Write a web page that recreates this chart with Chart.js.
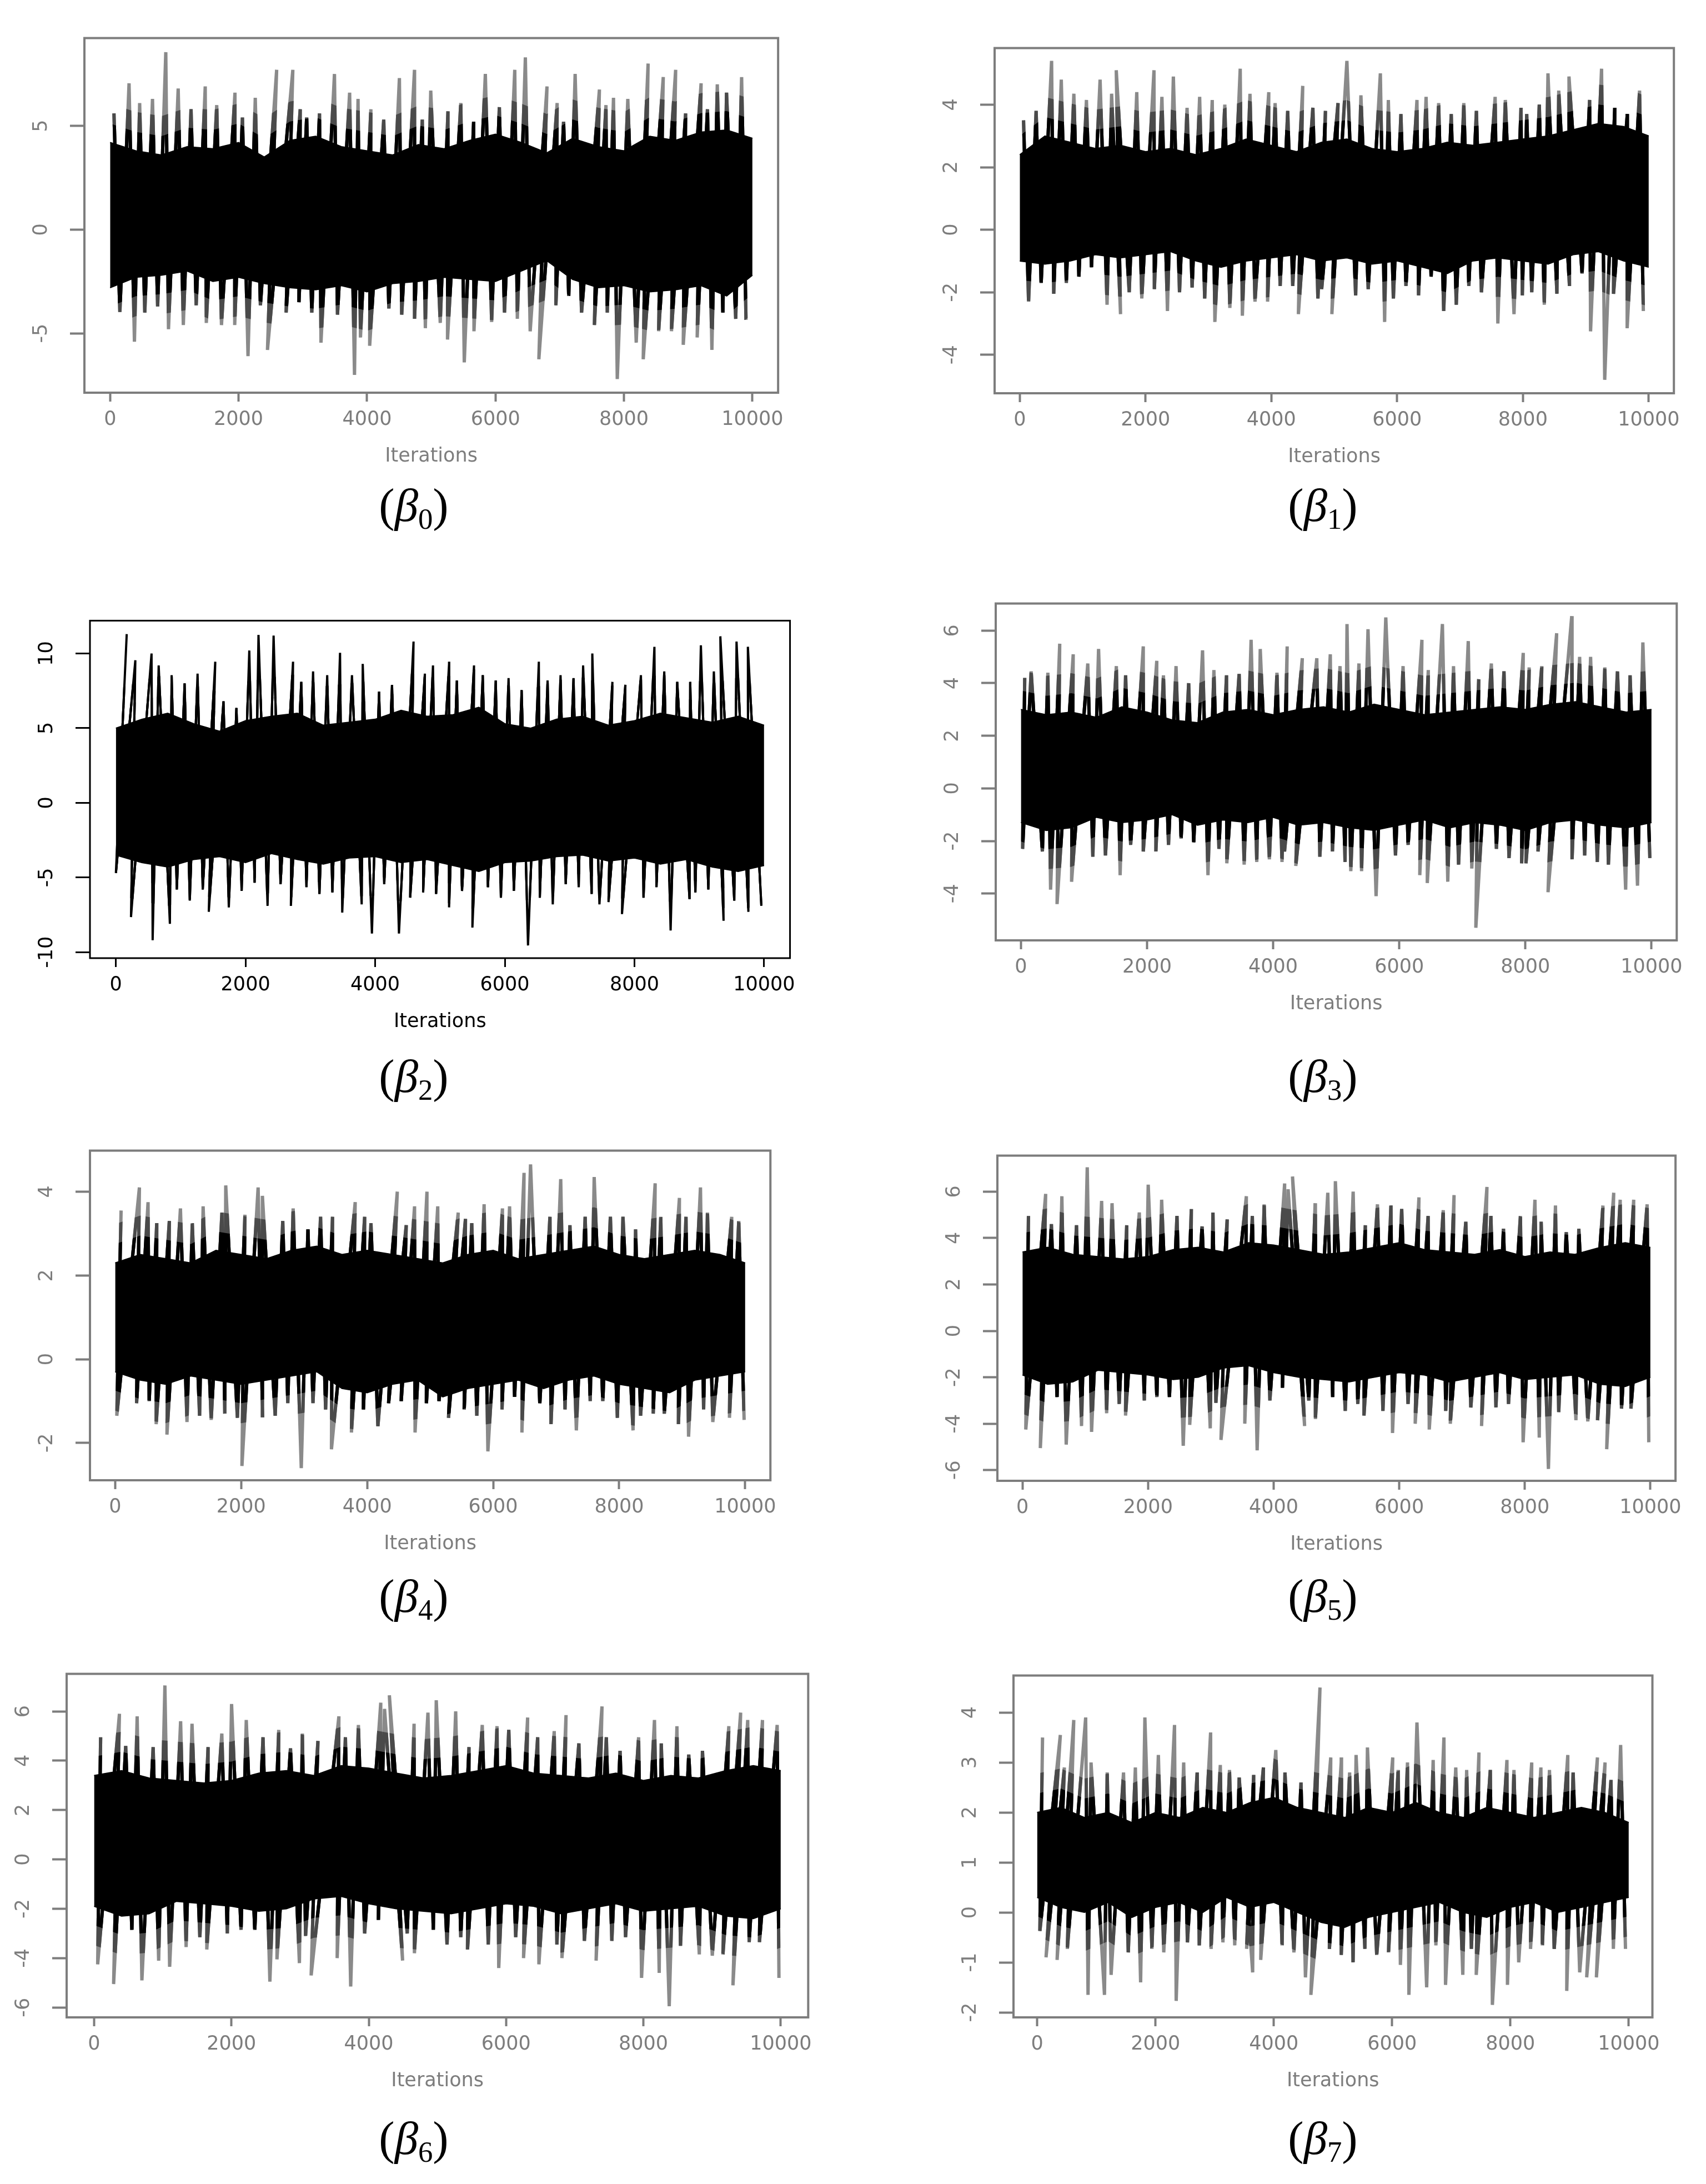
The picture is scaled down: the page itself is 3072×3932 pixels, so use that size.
<!DOCTYPE html>
<html>
<head>
<meta charset="utf-8">
<script src="https://cdn.jsdelivr.net/npm/chart.js@4.4.0/dist/chart.umd.min.js"></script>
<style>
    body { margin: 0; width: 3072px; height: 3932px; background: #fff; position: relative; overflow: hidden; }
    canvas { position: absolute; }
    .lbl { position: absolute; width: 300px; text-align: center; font-family: 'Liberation Serif', serif; font-size: 85px; line-height: 85px; color: #000; white-space: nowrap; }
    .lbl sub { font-size: 0.62em; vertical-align: -14px; line-height: 0; font-style: normal; }
</style>
</head>
<body>
<script>
// Trace plots of the MCMC chains (beta0 .. beta7)

const xTicks = [0, 2000, 4000, 6000, 8000, 10000];

// dense black band, one edge value per 400 iterations
const coreIters = [0, 400, 800, 1200, 1600, 2000, 2400, 2800, 3200, 3600, 4000, 4400, 4800,
    5200, 5600, 6000, 6400, 6800, 7200, 7600, 8000, 8400, 8800, 9200, 9600, 10000];

// every panel: the highest and lowest excursion in each 200-iteration stretch,
// with the iteration where that excursion sits (...At arrays)

// beta 0
const b0YTicks = [-5, 0, 5];
const b0Upper = [5.6, 7.05, 6.1, 6.3, 8.55, 6.8, 5.8, 6.9, 6.0, 6.6,
    5.4, 6.35, 7.7, 7.7, 5.8, 5.4, 5.6, 7.5, 6.6, 6.3,
    5.8, 5.3, 7.3, 7.7, 5.3, 6.7, 5.7, 6.1, 5.2, 7.5,
    5.9, 7.7, 8.3, 6.9, 6.1, 5.2, 7.5, 6.75, 6.0, 6.35,
    6.3, 8.0, 7.35, 7.7, 5.6, 7.05, 5.8, 7.0, 6.6, 7.35];
const b0UpperAt = [60, 295, 460, 660, 867, 1060, 1260, 1481, 1660, 1944,
    2060, 2260, 2593, 2845, 2960, 3060, 3260, 3493, 3729, 3860,
    4060, 4260, 4504, 4739, 4860, 4992, 5260, 5460, 5660, 5842,
    6060, 6300, 6465, 6802, 6960, 7060, 7240, 7618, 7720, 7837,
    8060, 8376, 8612, 8805, 8960, 9201, 9300, 9453, 9597, 9832];
const b0Lower = [-3.97, -5.4, -4.0, -3.7, -4.8, -4.6, -3.65, -4.5, -4.6, -4.6,
    -6.1, -3.65, -5.8, -4.0, -3.5, -4.0, -5.45, -4.1, -7.0, -5.2,
    -5.6, -3.8, -4.1, -4.3, -4.75, -4.5, -5.3, -6.4, -4.9, -4.45,
    -4.0, -4.3, -4.9, -6.25, -3.65, -3.2, -4.0, -4.6, -4.0, -7.2,
    -5.45, -6.25, -4.9, -4.9, -5.55, -5.2, -5.8, -4.0, -4.3, -4.35];
const b0LowerAt = [152, 379, 540, 740, 909, 1140, 1340, 1498, 1734, 1940,
    2147, 2340, 2450, 2740, 2940, 3140, 3283, 3540, 3805, 3898,
    4041, 4340, 4540, 4740, 4908, 5140, 5253, 5514, 5665, 5940,
    6140, 6340, 6540, 6675, 6940, 7140, 7340, 7540, 7740, 7896,
    8191, 8300, 8540, 8740, 8923, 9140, 9369, 9540, 9740, 9900];
const b0CoreUpper = [4.2, 3.8, 3.6, 4.0, 3.9, 4.2, 3.5, 4.3, 4.5, 4.0, 3.8, 3.6, 4.1,
    3.9, 4.3, 4.6, 4.2, 3.7, 4.4, 4.0, 3.8, 4.5, 4.3, 4.7, 4.8, 4.4];
const b0CoreLower = [-2.8, -2.3, -2.2, -2.0, -2.5, -2.3, -2.6, -2.8, -2.9, -2.7, -3.0, -2.6, -2.5,
    -2.3, -2.4, -2.5, -2.0, -1.5, -2.4, -2.8, -2.7, -3.0, -2.9, -2.7, -3.2, -2.2];

// beta 1
const b1YTicks = [-4, -2, 0, 2, 4];
const b1Upper = [3.5, 3.8, 5.4, 4.8, 4.35, 4.15, 4.8, 4.35, 5.1, 4.4,
    5.1, 4.25, 4.9, 3.9, 4.25, 4.15, 4.0, 5.15, 4.35, 4.4,
    4.05, 3.8, 4.6, 3.9, 3.8, 4.05, 5.4, 4.3, 5.0, 4.15,
    3.7, 4.15, 4.25, 4.05, 3.7, 4.05, 3.8, 4.25, 4.15, 3.9,
    3.7, 4.0, 5.0, 4.45, 4.9, 4.15, 5.15, 3.9, 3.7, 4.45];
const b1UpperAt = [60, 260, 506, 660, 860, 1060, 1277, 1460, 1534, 1860,
    2134, 2260, 2442, 2660, 2860, 3060, 3260, 3505, 3660, 3959,
    4060, 4260, 4499, 4660, 4860, 5060, 5201, 5424, 5733, 5860,
    6060, 6315, 6460, 6660, 6860, 7060, 7260, 7558, 7720, 7969,
    8060, 8260, 8398, 8569, 8732, 9060, 9250, 9460, 9660, 9854];
const b1Lower = [-2.3, -1.7, -2.05, -1.7, -1.5, -1.2, -2.4, -2.7, -2.0, -2.2,
    -1.9, -2.6, -2.0, -1.85, -2.2, -2.95, -2.5, -2.75, -2.3, -2.3,
    -1.8, -1.8, -2.7, -2.2, -1.9, -2.7, -2.1, -1.9, -2.95, -2.2,
    -1.8, -2.1, -1.5, -2.6, -2.4, -1.8, -2.0, -3.0, -2.7, -2.1,
    -2.0, -2.4, -2.05, -1.8, -1.4, -3.25, -4.8, -2.05, -3.15, -2.6];
const b1LowerAt = [140, 340, 540, 740, 940, 1140, 1388, 1602, 1740, 1940,
    2140, 2348, 2540, 2740, 2940, 3102, 3340, 3539, 3740, 3940,
    4140, 4340, 4430, 4740, 4800, 4962, 5340, 5540, 5801, 5940,
    6140, 6340, 6540, 6740, 6940, 7140, 7340, 7601, 7858, 7990,
    8140, 8340, 8540, 8740, 8940, 9075, 9300, 9440, 9657, 9914];
const b1CoreUpper = [2.4, 3.0, 2.8, 2.6, 2.7, 2.5, 2.6, 2.4, 2.6, 2.9, 2.7, 2.5, 2.8,
    2.9, 2.6, 2.5, 2.6, 2.8, 2.7, 2.8, 2.9, 3.0, 3.2, 3.4, 3.3, 3.0];
const b1CoreLower = [-1.0, -1.1, -1.0, -0.8, -0.9, -0.8, -0.7, -1.0, -1.2, -1.0, -0.9, -0.8, -1.0,
    -0.9, -1.1, -1.0, -1.2, -1.4, -1.0, -0.9, -1.0, -1.1, -0.8, -0.7, -1.0, -1.2];

// beta 2
const b2YTicks = [-10, -5, 0, 5, 10];
const b2Upper = [11.3, 9.55, 10.0, 9.2, 8.55, 8.0, 8.65, 9.45, 6.8, 6.35,
    10.2, 11.25, 11.2, 9.45, 8.1, 8.8, 8.55, 10.05, 8.55, 9.3,
    7.45, 7.9, 10.8, 8.65, 9.2, 9.45, 8.2, 9.2, 8.55, 8.2,
    8.35, 7.55, 9.45, 8.2, 8.55, 8.35, 9.2, 10.0, 8.1, 7.9,
    8.55, 10.45, 8.8, 8.1, 8.1, 10.55, 8.8, 11.15, 10.8, 10.45];
const b2UpperAt = [167, 300, 550, 660, 860, 1060, 1260, 1533, 1660, 1860,
    2058, 2200, 2433, 2733, 2860, 3042, 3260, 3458, 3642, 3808,
    4060, 4260, 4592, 4767, 4892, 5142, 5260, 5525, 5660, 5860,
    6058, 6260, 6525, 6660, 6860, 7060, 7208, 7350, 7660, 7860,
    8100, 8308, 8460, 8660, 8860, 9025, 9225, 9325, 9575, 9750];
const b2Lower = [-4.7, -7.65, -9.2, -8.1, -5.8, -6.55, -5.8, -7.3, -7.0, -5.9,
    -5.35, -6.9, -5.45, -6.9, -5.65, -6.1, -6.0, -7.35, -6.8, -8.75,
    -5.45, -8.75, -6.35, -6.0, -6.1, -7.0, -5.9, -8.35, -5.65, -6.35,
    -5.9, -9.55, -6.35, -6.8, -5.45, -5.65, -6.1, -6.8, -6.65, -7.45,
    -6.35, -5.65, -8.55, -6.45, -6.0, -5.8, -7.9, -6.55, -7.3, -6.9];
const b2LowerAt = [0, 233, 567, 833, 940, 1140, 1340, 1433, 1742, 1940,
    2140, 2340, 2540, 2700, 2940, 3140, 3340, 3492, 3792, 3950,
    4140, 4367, 4540, 4740, 4940, 5140, 5340, 5500, 5740, 5940,
    6140, 6358, 6540, 6740, 6940, 7140, 7340, 7460, 7600, 7808,
    8140, 8340, 8558, 8850, 8940, 9140, 9375, 9540, 9758, 9958];
const b2CoreUpper = [5.0, 5.6, 6.0, 5.3, 4.8, 5.5, 5.8, 6.0, 5.2, 5.4, 5.6, 6.2, 5.8,
    5.9, 6.4, 5.3, 5.0, 5.6, 5.8, 5.2, 5.5, 6.0, 5.7, 5.4, 5.8, 5.2];
const b2CoreLower = [-3.5, -4.0, -4.3, -3.8, -3.6, -4.0, -3.4, -3.8, -4.1, -3.7, -3.6, -4.0, -3.8,
    -4.2, -4.6, -4.0, -3.9, -3.6, -3.5, -3.9, -3.7, -4.1, -3.8, -4.3, -4.6, -4.2];

// beta 3
const b3YTicks = [-4, -2, 0, 2, 4, 6];
const b3Upper = [4.2, 4.45, 4.4, 5.5, 5.1, 4.75, 5.3, 4.65, 4.3, 5.4,
    4.85, 4.3, 4.65, 4.0, 5.25, 4.5, 4.3, 4.35, 5.65, 5.3,
    4.4, 5.4, 4.95, 4.95, 5.1, 4.65, 6.25, 4.75, 6.05, 6.5,
    4.65, 5.65, 4.5, 6.25, 4.65, 5.6, 4.15, 4.75, 4.45, 5.15,
    4.6, 4.65, 5.9, 6.55, 5.0, 5.0, 4.6, 4.45, 4.3, 5.55];
const b3UpperAt = [60, 162, 427, 615, 829, 1060, 1231, 1513, 1660, 1940,
    2154, 2260, 2460, 2660, 2880, 3060, 3260, 3460, 3650, 3795,
    4060, 4222, 4462, 4692, 4906, 5060, 5171, 5360, 5504, 5786,
    6060, 6359, 6460, 6684, 6860, 7094, 7260, 7460, 7660, 7966,
    8060, 8260, 8496, 8735, 8860, 9034, 9260, 9460, 9660, 9863];
const b3Lower = [-2.3, -2.4, -3.85, -4.4, -3.55, -2.6, -2.55, -3.3, -2.15, -2.4,
    -2.4, -2.15, -1.9, -2.05, -3.3, -2.3, -2.85, -2.9, -2.8, -2.7,
    -2.8, -2.4, -2.95, -2.6, -2.4, -2.8, -3.15, -3.15, -4.1, -2.55,
    -2.15, -3.3, -3.6, -3.55, -2.9, -3.05, -5.3, -2.3, -2.65, -2.85,
    -2.85, -2.4, -3.95, -2.7, -2.55, -2.8, -2.9, -3.85, -3.7, -2.65];
const b3LowerAt = [26, 340, 470, 573, 803, 1140, 1340, 1573, 1740, 1940,
    2140, 2340, 2540, 2740, 2966, 3140, 3265, 3540, 3740, 3940,
    4140, 4180, 4359, 4740, 4940, 5140, 5231, 5402, 5632, 5940,
    6140, 6325, 6444, 6769, 6940, 7150, 7214, 7540, 7740, 7940,
    8009, 8200, 8359, 8740, 8940, 9140, 9316, 9590, 9778, 9974];
const b3CoreUpper = [3.0, 2.8, 2.9, 2.7, 3.1, 2.9, 2.6, 2.5, 2.9, 3.0, 2.8, 3.0, 3.1,
    2.9, 3.2, 3.0, 2.8, 2.9, 3.0, 3.1, 3.0, 3.2, 3.3, 3.1, 2.9, 3.0];
const b3CoreLower = [-1.3, -1.6, -1.5, -1.1, -1.3, -1.2, -1.0, -1.4, -1.2, -1.3, -1.1, -1.4, -1.3,
    -1.5, -1.6, -1.4, -1.2, -1.5, -1.3, -1.4, -1.6, -1.3, -1.2, -1.4, -1.5, -1.3];

// beta 4
const b4YTicks = [-2, 0, 2, 4];
const b4Upper = [3.55, 4.1, 3.75, 3.25, 3.3, 3.6, 3.25, 3.65, 3.5, 4.15,
    3.45, 4.1, 3.9, 3.3, 3.6, 3.1, 3.4, 3.4, 3.75, 3.4,
    3.25, 4.0, 3.2, 3.65, 4.0, 3.65, 3.5, 3.35, 3.25, 3.7,
    3.6, 3.65, 4.45, 4.65, 3.4, 4.3, 3.2, 3.4, 4.35, 3.4,
    3.4, 3.1, 4.2, 3.4, 3.85, 3.4, 4.1, 3.5, 3.4, 3.3];
const b4UpperAt = [94, 385, 522, 660, 860, 1036, 1224, 1396, 1695, 1755,
    2060, 2269, 2337, 2660, 2825, 3060, 3260, 3450, 3810, 3960,
    4060, 4478, 4620, 4752, 4949, 5120, 5445, 5560, 5660, 5856,
    6147, 6260, 6490, 6593, 6901, 7072, 7218, 7460, 7603, 7860,
    8060, 8260, 8571, 8660, 8956, 9060, 9290, 9401, 9786, 9898];
const b4Lower = [-1.35, -1.05, -1.0, -1.55, -1.8, -1.5, -1.35, -1.45, -1.3, -1.4,
    -2.55, -1.35, -1.35, -1.05, -2.6, -1.05, -1.2, -2.15, -1.75, -1.2,
    -1.6, -1.05, -1.0, -1.75, -1.05, -1.0, -1.4, -1.2, -1.35, -2.2,
    -1.2, -0.9, -1.75, -1.05, -1.55, -1.2, -1.7, -1.0, -1.0, -1.4,
    -1.7, -1.35, -1.3, -1.3, -1.55, -1.85, -1.2, -1.5, -1.4, -1.45];
const b4LowerAt = [26, 340, 540, 651, 822, 1140, 1340, 1524, 1740, 1940,
    2012, 2340, 2540, 2740, 2954, 3140, 3340, 3433, 3750, 3940,
    4170, 4340, 4540, 4760, 4940, 5140, 5291, 5540, 5740, 5916,
    6140, 6340, 6456, 6740, 6918, 7140, 7320, 7540, 7740, 7971,
    8220, 8340, 8540, 8716, 8940, 9101, 9340, 9486, 9750, 9983];
const b4CoreUpper = [2.3, 2.5, 2.4, 2.3, 2.6, 2.5, 2.4, 2.6, 2.7, 2.5, 2.6, 2.5, 2.4,
    2.3, 2.5, 2.6, 2.4, 2.5, 2.6, 2.7, 2.5, 2.4, 2.5, 2.6, 2.5, 2.3];
const b4CoreLower = [-0.3, -0.5, -0.6, -0.4, -0.5, -0.6, -0.5, -0.4, -0.3, -0.7, -0.8, -0.6, -0.5,
    -0.9, -0.7, -0.6, -0.5, -0.7, -0.5, -0.4, -0.6, -0.7, -0.8, -0.5, -0.4, -0.3];

// beta 5 (the beta 6 panel shows the same chain)
const b5YTicks = [-6, -4, -2, 0, 2, 4, 6];
const b5Upper = [4.95, 5.9, 4.6, 5.8, 4.55, 7.05, 5.6, 5.5, 4.55, 5.1,
    6.3, 5.65, 4.95, 5.25, 4.5, 5.1, 4.8, 5.8, 4.95, 5.45,
    6.35, 6.1, 6.65, 5.5, 5.95, 6.45, 6.0, 4.55, 5.45, 5.4,
    5.25, 5.75, 4.95, 5.2, 5.85, 4.7, 6.2, 4.95, 4.4, 4.95,
    5.65, 4.7, 5.4, 4.25, 4.4, 5.4, 5.95, 5.65, 5.65, 5.45];
const b5UpperAt = [95, 369, 460, 627, 860, 1031, 1260, 1426, 1660, 1860,
    2002, 2216, 2460, 2689, 2860, 3033, 3260, 3565, 3660, 3849,
    4175, 4230, 4300, 4660, 4862, 4983, 5266, 5460, 5653, 5868,
    6039, 6314, 6460, 6701, 6873, 7060, 7397, 7460, 7660, 7930,
    8161, 8260, 8488, 8660, 8860, 9244, 9416, 9519, 9734, 9948];
const b5Lower = [-4.25, -5.05, -2.85, -4.9, -4.1, -4.35, -3.55, -3.15, -3.65, -3.0,
    -2.85, -2.85, -4.95, -4.05, -4.2, -3.1, -4.7, -4.0, -5.15, -3.0,
    -2.45, -4.1, -3.0, -3.8, -2.85, -3.45, -3.15, -3.65, -3.45, -4.4,
    -3.15, -4.0, -4.25, -3.45, -4.0, -3.3, -4.1, -3.3, -3.15, -4.8,
    -4.6, -5.95, -3.5, -3.85, -3.9, -3.85, -5.1, -3.35, -3.35, -4.8];
const b5LowerAt = [52, 284, 550, 696, 940, 1100, 1340, 1540, 1641, 1940,
    2140, 2340, 2560, 2663, 2990, 3080, 3161, 3540, 3737, 3940,
    4140, 4493, 4560, 4665, 4940, 5140, 5340, 5438, 5740, 5893,
    6140, 6254, 6478, 6740, 6813, 7140, 7311, 7540, 7740, 7973,
    8230, 8376, 8540, 8814, 9003, 9158, 9304, 9540, 9690, 9974];
const b5CoreUpper = [3.4, 3.6, 3.3, 3.2, 3.1, 3.2, 3.5, 3.6, 3.4, 3.8, 3.7, 3.5, 3.3,
    3.4, 3.6, 3.8, 3.5, 3.4, 3.3, 3.5, 3.2, 3.4, 3.3, 3.6, 3.8, 3.6];
const b5CoreLower = [-1.9, -2.3, -2.2, -1.7, -1.8, -1.9, -2.1, -2.0, -1.6, -1.5, -1.8, -2.0, -2.1,
    -2.2, -2.0, -1.8, -1.9, -2.2, -2.0, -1.8, -2.1, -2.0, -1.9, -2.3, -2.4, -2.0];

// beta 7
const b7YTicks = [-2, -1, 0, 1, 2, 3, 4];
const b7Upper = [3.5, 3.55, 2.9, 3.85, 3.9, 3.0, 2.8, 2.8, 2.9, 3.9,
    3.15, 3.75, 3.0, 2.8, 3.6, 2.95, 2.85, 2.7, 2.75, 2.9,
    3.25, 2.8, 2.6, 4.5, 3.1, 3.1, 2.8, 3.15, 3.3, 3.1,
    2.85, 3.0, 3.8, 3.05, 3.5, 2.9, 2.85, 3.2, 2.85, 3.05,
    2.85, 3.0, 2.9, 2.85, 3.15, 2.8, 3.1, 3.0, 2.65, 3.35];
const b7UpperAt = [91, 392, 460, 619, 820, 911, 1184, 1460, 1660, 1821,
    2049, 2322, 2477, 2705, 2932, 3096, 3251, 3415, 3660, 3825,
    4034, 4189, 4460, 4781, 4963, 5145, 5282, 5391, 5583, 6011,
    6102, 6260, 6420, 6694, 6876, 7076, 7260, 7468, 7660, 7941,
    8060, 8360, 8515, 8660, 8970, 9060, 9471, 9600, 9700, 9863];
const b7Lower = [-0.37, -0.9, -0.95, -0.73, -1.65, -1.65, -1.25, -0.8, -1.4, -0.73,
    -0.8, -1.77, -0.6, -0.66, -0.73, -0.6, -0.66, -1.2, -0.73, -0.95,
    -0.66, -0.8, -1.3, -1.65, -0.73, -0.85, -1.0, -0.73, -0.85, -0.8,
    -1.05, -1.65, -1.5, -0.66, -1.45, -1.25, -0.73, -1.25, -1.85, -1.45,
    -1.0, -0.73, -0.66, -0.73, -1.57, -1.2, -1.3, -1.3, -0.73, -0.73];
const b7LowerAt = [46, 150, 337, 510, 860, 1138, 1250, 1540, 1749, 1940,
    2140, 2350, 2540, 2740, 2940, 3140, 3340, 3643, 3540, 3779,
    4140, 4340, 4535, 4627, 4940, 5140, 5340, 5540, 5740, 5940,
    6140, 6284, 6584, 6740, 6903, 7195, 7340, 7422, 7695, 7950,
    8140, 8340, 8540, 8740, 8952, 9171, 9289, 9453, 9740, 9945];
const b7CoreUpper = [2.0, 2.1, 1.9, 2.0, 1.8, 2.0, 1.9, 2.1, 2.0, 2.2, 2.3, 2.1, 2.0,
    1.9, 2.1, 2.0, 2.2, 2.0, 1.9, 2.1, 2.0, 1.9, 2.0, 2.1, 2.0, 1.8];
const b7CoreLower = [0.3, 0.1, 0.0, 0.2, -0.1, 0.1, 0.2, 0.0, 0.3, 0.1, 0.2, 0.0, -0.2,
    -0.3, -0.1, 0.0, 0.1, 0.2, 0.0, -0.1, 0.1, 0.2, 0.0, 0.1, 0.2, 0.3];

const GREY = '#7d7d7d';
const SPIKE_GREY = '#8a8a8a';
const TICK_FONT = 35;
const Y_AXIS_W = 130;
const X_AXIS_H = 150;
const PAD = 12;
// how far (px) beyond the dense band the overlapping lines stay black / dark grey
const HALO = { 2: 34, 3: 70 };

// box = plot frame [left, top, right, bottom] in page pixels, label = centre of the (beta) caption
const panels = [
    { sub: '0', box: [152, 26, 1411, 707], yMin: -7.86, yMax: 9.23, yTicks: b0YTicks,
      upper: b0Upper, upperAt: b0UpperAt, lower: b0Lower, lowerAt: b0LowerAt,
      coreUpper: b0CoreUpper, coreLower: b0CoreLower,
      color: GREY, spike: SPIKE_GREY, spikeW: 6, frameW: 4, label: [745, 918] },
    { sub: '1', box: [1791, 44, 3025, 708], yMin: -5.23, yMax: 5.81, yTicks: b1YTicks,
      upper: b1Upper, upperAt: b1UpperAt, lower: b1Lower, lowerAt: b1LowerAt,
      coreUpper: b1CoreUpper, coreLower: b1CoreLower,
      color: GREY, spike: SPIKE_GREY, spikeW: 6, frameW: 4, label: [2382, 918] },
    { sub: '2', box: [162, 1086, 1432, 1725], yMin: -10.4, yMax: 12.2, yTicks: b2YTicks,
      upper: b2Upper, upperAt: b2UpperAt, lower: b2Lower, lowerAt: b2LowerAt,
      coreUpper: b2CoreUpper, coreLower: b2CoreLower,
      color: '#000', spike: '#000', spikeW: 4, frameW: 3, label: [745, 1946] },
    { sub: '3', box: [1793, 1044, 3030, 1693], yMin: -5.78, yMax: 7.03, yTicks: b3YTicks,
      upper: b3Upper, upperAt: b3UpperAt, lower: b3Lower, lowerAt: b3LowerAt,
      coreUpper: b3CoreUpper, coreLower: b3CoreLower,
      color: GREY, spike: SPIKE_GREY, spikeW: 6, frameW: 4, label: [2382, 1946] },
    { sub: '4', box: [162, 2029, 1398, 2665], yMin: -2.89, yMax: 4.98, yTicks: b4YTicks,
      upper: b4Upper, upperAt: b4UpperAt, lower: b4Lower, lowerAt: b4LowerAt,
      coreUpper: b4CoreUpper, coreLower: b4CoreLower,
      color: GREY, spike: SPIKE_GREY, spikeW: 6, frameW: 4, label: [745, 2882] },
    { sub: '5', box: [1796, 2038, 3028, 2666], yMin: -6.46, yMax: 7.55, yTicks: b5YTicks,
      upper: b5Upper, upperAt: b5UpperAt, lower: b5Lower, lowerAt: b5LowerAt,
      coreUpper: b5CoreUpper, coreLower: b5CoreLower,
      color: GREY, spike: SPIKE_GREY, spikeW: 6, frameW: 4, label: [2382, 2882] },
    { sub: '6', box: [120, 2971, 1462, 3632], yMin: -6.4, yMax: 7.52, yTicks: b5YTicks,
      upper: b5Upper, upperAt: b5UpperAt, lower: b5Lower, lowerAt: b5LowerAt,
      coreUpper: b5CoreUpper, coreLower: b5CoreLower,
      color: GREY, spike: SPIKE_GREY, spikeW: 6, frameW: 4, label: [745, 3858] },
    { sub: '7', box: [1825, 2974, 2989, 3632], yMin: -2.1, yMax: 4.74, yTicks: b7YTicks,
      upper: b7Upper, upperAt: b7UpperAt, lower: b7Lower, lowerAt: b7LowerAt,
      coreUpper: b7CoreUpper, coreLower: b7CoreLower,
      color: GREY, spike: SPIKE_GREY, spikeW: 6, frameW: 4, label: [2382, 3858] }
];

Chart.defaults.font.family = "'DejaVu Sans', sans-serif";

// frame round the whole plot region, like R's box()
const framePlugin = {
    id: 'frame',
    afterDatasetsDraw(chart, args, opts) {
        const a = chart.chartArea;
        const ctx = chart.ctx;
        ctx.save();
        ctx.strokeStyle = opts.color;
        ctx.lineWidth = opts.width;
        ctx.strokeRect(a.left, a.top, a.right - a.left, a.bottom - a.top);
        ctx.restore();
    }
};

// darker copies of the spikes are only shown close to the dense band
const haloClip = {
    id: 'haloClip',
    beforeDatasetDraw(chart, args, opts) {
        const halo = HALO[args.index];
        if (!halo) return;
        const xs = chart.scales.x, ys = chart.scales.y;
        const ctx = chart.ctx;
        ctx.save();
        ctx.beginPath();
        opts.upper.forEach((v, i) => ctx.lineTo(xs.getPixelForValue(coreIters[i]), ys.getPixelForValue(v) - halo));
        for (let i = opts.lower.length - 1; i >= 0; i--) {
            ctx.lineTo(xs.getPixelForValue(coreIters[i]), ys.getPixelForValue(opts.lower[i]) + halo);
        }
        ctx.closePath();
        ctx.clip();
    },
    afterDatasetDraw(chart, args) {
        if (HALO[args.index]) chart.ctx.restore();
    }
};

const measure = document.createElement('canvas').getContext('2d');
measure.font = TICK_FONT + "px 'DejaVu Sans'";

function spikeTrace(p) {
    const pts = [];
    p.upper.forEach((v, i) => {
        pts.push({ x: p.upperAt[i], y: v });
        pts.push({ x: p.lowerAt[i], y: p.lower[i] });
    });
    return pts;
}

function band(values) {
    return coreIters.map((it, i) => ({ x: it, y: values[i] }));
}

function drawPanel(p) {
    const [L, T, R, B] = p.box;
    const canvas = document.createElement('canvas');
    canvas.width = R - L + Y_AXIS_W + PAD;
    canvas.height = B - T + X_AXIS_H + PAD;
    canvas.style.left = (L - Y_AXIS_W) + 'px';
    canvas.style.top = (T - PAD) + 'px';
    document.body.appendChild(canvas);

    const widest = Math.max(...p.yTicks.map(v => measure.measureText(String(v)).width));
    const yLabelPad = 77 - 26 - widest / 2;
    const spikes = spikeTrace(p);
    const spikeLine = (color, order) => ({
        data: spikes,
        borderColor: color,
        borderWidth: p.spikeW,
        fill: false,
        order: order
    });

    new Chart(canvas, {
        type: 'line',
        data: {
            datasets: [
                {
                    data: band(p.coreUpper),
                    borderColor: '#000',
                    backgroundColor: '#000',
                    borderWidth: 2,
                    fill: '+1',
                    order: 0
                },
                {
                    data: band(p.coreLower),
                    borderColor: '#000',
                    borderWidth: 2,
                    fill: false,
                    order: 1
                },
                spikeLine('#000', 2),
                spikeLine(p.spike === '#000' ? '#000' : '#4a4a4a', 3),
                spikeLine(p.spike, 4)
            ]
        },
        options: {
            responsive: false,
            animation: false,
            devicePixelRatio: 1,
            events: [],
            parsing: false,
            layout: {
                padding: { top: PAD, right: PAD, left: 0, bottom: 0 },
                autoPadding: false
            },
            elements: {
                line: { tension: 0, borderJoinStyle: 'miter' },
                point: { radius: 0 }
            },
            plugins: {
                legend: { display: false },
                tooltip: { enabled: false },
                frame: { color: p.color, width: p.frameW },
                haloClip: { upper: p.coreUpper, lower: p.coreLower }
            },
            scales: {
                x: {
                    type: 'linear',
                    min: -400,
                    max: 10400,
                    afterBuildTicks: scale => { scale.ticks = xTicks.map(v => ({ value: v })); },
                    afterFit: scale => { scale.height = X_AXIS_H; },
                    border: { display: false },
                    grid: {
                        drawOnChartArea: false,
                        drawTicks: true,
                        tickLength: 16,
                        tickWidth: p.frameW,
                        tickColor: p.color
                    },
                    ticks: {
                        autoSkip: false,
                        maxRotation: 0,
                        padding: 12,
                        color: p.color,
                        font: { size: TICK_FONT },
                        callback: v => String(v)
                    },
                    title: {
                        display: true,
                        text: 'Iterations',
                        color: p.color,
                        font: { size: TICK_FONT },
                        padding: { top: 0, bottom: 14 }
                    }
                },
                y: {
                    type: 'linear',
                    min: p.yMin,
                    max: p.yMax,
                    afterBuildTicks: scale => { scale.ticks = p.yTicks.map(v => ({ value: v })); },
                    afterFit: scale => { scale.width = Y_AXIS_W; },
                    border: { display: false },
                    grid: {
                        drawOnChartArea: false,
                        drawTicks: true,
                        tickLength: 26,
                        tickWidth: p.frameW,
                        tickColor: p.color
                    },
                    ticks: {
                        autoSkip: false,
                        minRotation: 90,
                        maxRotation: 90,
                        crossAlign: 'center',
                        padding: yLabelPad,
                        color: p.color,
                        font: { size: TICK_FONT },
                        callback: v => String(v)
                    }
                }
            }
        },
        plugins: [framePlugin, haloClip]
    });

    const lbl = document.createElement('div');
    lbl.className = 'lbl';
    lbl.innerHTML = '(<i>β</i><sub>' + p.sub + '</sub>)';
    lbl.style.left = (p.label[0] - 150) + 'px';
    lbl.style.top = (p.label[1] - 51) + 'px';
    document.body.appendChild(lbl);
}

panels.forEach(drawPanel);
</script>
</body>
</html>
